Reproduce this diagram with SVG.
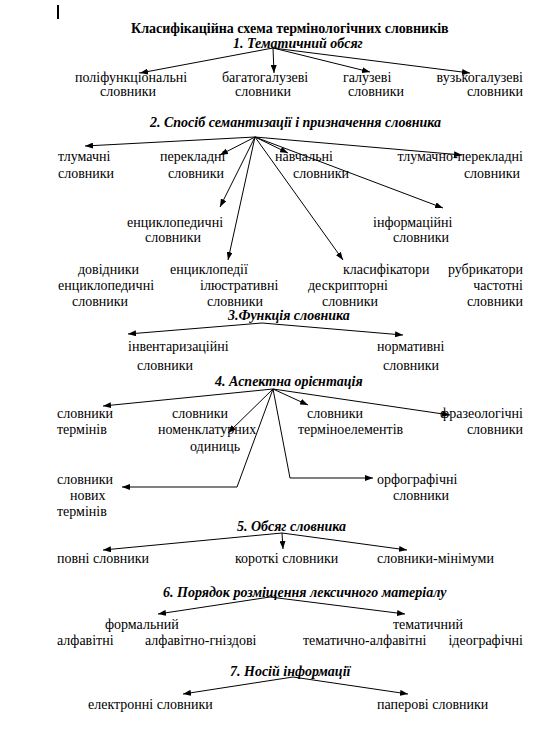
<svg xmlns="http://www.w3.org/2000/svg" width="548" height="745" viewBox="0 0 548 745">
<defs>
<marker id="ah" markerWidth="8" markerHeight="6" refX="8" refY="3" orient="auto" markerUnits="userSpaceOnUse"><path d="M0,0 L8,3 L0,6 z" fill="#000"/></marker>
<style>
text{font-family:"Liberation Serif","Times New Roman",serif;font-size:14px;fill:#000}
.t{font-weight:bold}
.h{font-weight:bold;font-style:italic}
.c line,.c polyline{stroke:#000;stroke-width:1;fill:none;marker-end:url(#ah)}
</style>
</defs>
<rect width="548" height="745" fill="#fff"/>
<rect x="57" y="5" width="2" height="14" fill="#000"/>
<g id="title"><text class="t" x="131" y="33">Класифікаційна схема термінологічних словників</text></g>

<g class="c" id="connectors">
<line x1="273" y1="48" x2="140" y2="73"/>
<line x1="273" y1="48" x2="274" y2="73"/>
<line x1="273" y1="48" x2="370" y2="72"/>
<line x1="273" y1="48" x2="470" y2="73"/>

<line x1="255" y1="137" x2="85" y2="146"/>
<line x1="255" y1="137" x2="220" y2="155"/>
<line x1="255" y1="137" x2="288" y2="153"/>
<line x1="255" y1="137" x2="462" y2="155"/>
<line x1="255" y1="137" x2="443" y2="208"/>
<line x1="255" y1="137" x2="220" y2="207"/>
<line x1="255" y1="137" x2="228" y2="260"/>
<line x1="255" y1="137" x2="343" y2="260"/>

<line x1="262" y1="323" x2="128" y2="334"/>
<line x1="262" y1="323" x2="403" y2="335"/>

<line x1="273" y1="389" x2="103" y2="406"/>
<line x1="273" y1="389" x2="228" y2="433"/>
<line x1="273" y1="389" x2="308" y2="405"/>
<line x1="273" y1="389" x2="450" y2="415"/>
<polyline points="273,389 237,487 122,487"/>
<polyline points="273,389 290,478 373,478"/>

<line x1="282" y1="533" x2="103" y2="550"/>
<line x1="282" y1="533" x2="283" y2="549"/>
<line x1="282" y1="533" x2="407" y2="550"/>

<line x1="270" y1="597" x2="158" y2="614"/>
<line x1="270" y1="597" x2="405" y2="614"/>

<line x1="293" y1="677" x2="183" y2="694"/>
<line x1="293" y1="677" x2="408" y2="694"/>
</g>

<g id="s1"><text class="h" x="233" y="48">1.  Тематичний обсяг</text></g>
<g id="n1a"><text x="75" y="82">поліфункціональні</text><text x="100" y="96">словники</text></g>
<g id="n1b"><text x="222" y="82">багатогалузеві</text><text x="235" y="96">словники</text></g>
<g id="n1c"><text x="343" y="82">галузеві</text><text x="348" y="96">словники</text></g>
<g id="n1d"><text x="523" y="82" text-anchor="end">вузькогалузеві</text><text x="523" y="96" text-anchor="end">словники</text></g>

<g id="s2"><text class="h" x="150" y="127">2.  Спосіб семантизації і призначення словника</text></g>
<g id="n2a"><text x="58" y="161">тлумачні</text><text x="58" y="178">словники</text></g>
<g id="n2b"><text x="160" y="161">перекладні</text><text x="168" y="178">словники</text></g>
<g id="n2c"><text x="275" y="161">навчальні</text><text x="293" y="178">словники</text></g>
<g id="n2d"><text x="523" y="161" text-anchor="end">тлумачно-перекладні</text><text x="520" y="178" text-anchor="end">словники</text></g>
<g id="n2e"><text x="127" y="227">енциклопедичні</text><text x="145" y="242">словники</text></g>
<g id="n2f"><text x="373" y="227">інформаційні</text><text x="393" y="242">словники</text></g>
<g id="n2g"><text x="78" y="274">довідники</text><text x="58" y="290">енциклопедичні</text><text x="72" y="306">словники</text></g>
<g id="n2h"><text x="170" y="274">енциклопедії</text><text x="200" y="290">ілюстративні</text><text x="207" y="306">словники</text></g>
<g id="n2i"><text x="343" y="274">класифікатори</text><text x="308" y="290">дескрипторні</text><text x="322" y="306">словники</text></g>
<g id="n2j"><text x="523" y="274" text-anchor="end">рубрикатори</text><text x="523" y="290" text-anchor="end">частотні</text><text x="523" y="306" text-anchor="end">словники</text></g>

<g id="s3"><text class="h" x="228" y="320">3.Функція словника</text></g>
<g id="n3a"><text x="128" y="351">інвентаризаційні</text><text x="137" y="370">словники</text></g>
<g id="n3b"><text x="377" y="351">нормативні</text><text x="383" y="370">словники</text></g>

<g id="s4"><text class="h" x="215" y="386">4. Аспектна орієнтація</text></g>
<g id="n4a"><text x="57" y="418">словники</text><text x="57" y="434">термінів</text></g>
<g id="n4b"><text x="172" y="418">словники</text><text x="158" y="434">номенклатурних</text><text x="190" y="451">одиниць</text></g>
<g id="n4c"><text x="307" y="418">словники</text><text x="298" y="434">терміноелементів</text></g>
<g id="n4d"><text x="523" y="418" text-anchor="end">фразеологічні</text><text x="523" y="434" text-anchor="end">словники</text></g>
<g id="n4e"><text x="57" y="484">словники</text><text x="70" y="500">нових</text><text x="57" y="516">термінів</text></g>
<g id="n4f"><text x="377" y="484">орфографічні</text><text x="393" y="500">словники</text></g>

<g id="s5"><text class="h" x="237" y="531">5. Обсяг словника</text></g>
<g id="n5a"><text x="57" y="563">повні словники</text></g>
<g id="n5b"><text x="235" y="563">короткі словники</text></g>
<g id="n5c"><text x="377" y="563">словники-мінімуми</text></g>

<g id="s6"><text class="h" x="163" y="597">6. Порядок розміщення лексичного матеріалу</text></g>
<g id="n6a"><text x="105" y="629">формальний</text></g>
<g id="n6b"><text x="393" y="629">тематичний</text></g>
<g id="n6c"><text x="57" y="645">алфавітні</text></g>
<g id="n6d"><text x="145" y="645">алфавітно-гніздові</text></g>
<g id="n6e"><text x="303" y="645">тематично-алфавітні</text></g>
<g id="n6f"><text x="523" y="645" text-anchor="end">ідеографічні</text></g>

<g id="s7"><text class="h" x="230" y="676">7. Носій інформації</text></g>
<g id="n7a"><text x="88" y="709">електронні словники</text></g>
<g id="n7b"><text x="377" y="709">паперові словники</text></g>
</svg>
